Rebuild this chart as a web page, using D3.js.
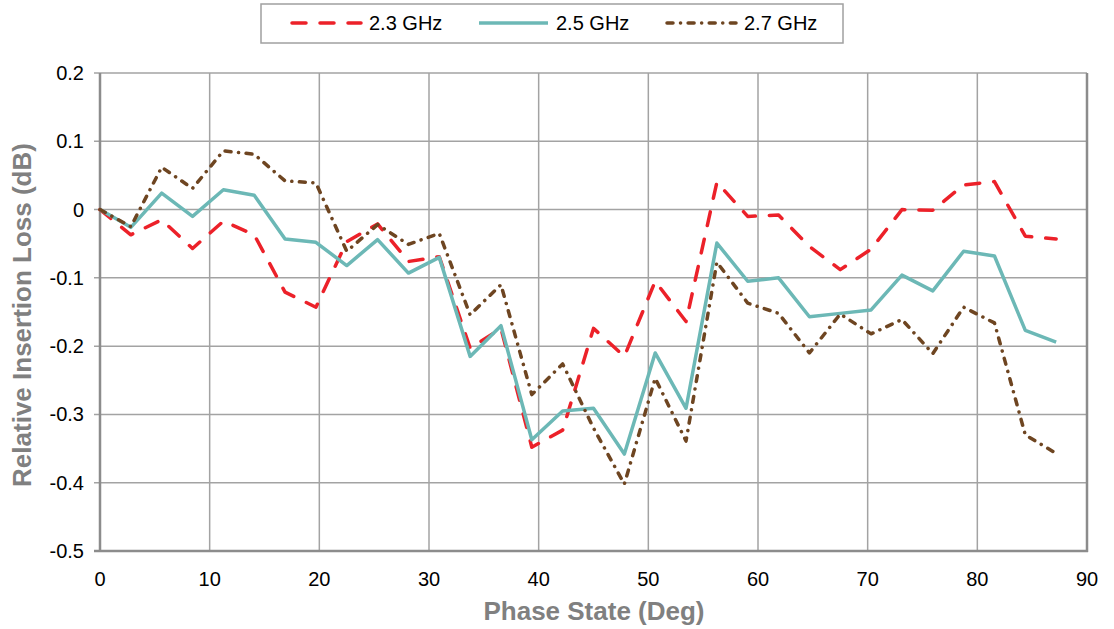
<!doctype html>
<html>
<head>
<meta charset="utf-8">
<script src="https://d3js.org/d3.v7.min.js"></script>
<style>
  body { margin: 0; background: #fff; }
  text { font-family: "Liberation Sans", Arial, sans-serif; }
</style>
</head>
<body>
<svg width="1114" height="629" id="chart"></svg>
<script>
// phase states (deg)
var phase = [0, 2.8125, 5.625, 8.4375, 11.25, 14.0625, 16.875, 19.6875, 22.5, 25.3125,
  28.125, 30.9375, 33.75, 36.5625, 39.375, 42.1875, 45, 47.8125, 50.625, 53.4375,
  56.25, 59.0625, 61.875, 64.6875, 67.5, 70.3125, 73.125, 75.9375, 78.75, 81.5625,
  84.375, 87.1875];

var loss23 = [0, -0.037, -0.015, -0.057, -0.017, -0.037, -0.121, -0.143, -0.047, -0.021,
  -0.076, -0.069, -0.203, -0.174, -0.348, -0.323, -0.174, -0.215, -0.105, -0.164,
  0.040, -0.010, -0.008, -0.054, -0.088, -0.058, 0.0, -0.001, 0.036, 0.041,
  -0.039, -0.043];

var loss25 = [0, -0.026, 0.024, -0.010, 0.029, 0.021, -0.043, -0.048, -0.082, -0.044,
  -0.093, -0.070, -0.215, -0.170, -0.337, -0.295, -0.291, -0.358, -0.210, -0.291,
  -0.049, -0.105, -0.100, -0.157, -0.152, -0.147, -0.096, -0.119, -0.061, -0.068,
  -0.177, -0.194];

var loss27 = [0, -0.025, 0.062, 0.031, 0.086, 0.081, 0.042, 0.039, -0.061, -0.022,
  -0.051, -0.035, -0.154, -0.110, -0.271, -0.226, -0.320, -0.402, -0.247, -0.339,
  -0.077, -0.137, -0.152, -0.210, -0.153, -0.182, -0.161, -0.211, -0.143, -0.166,
  -0.330, -0.357];

var seriesNames = ["2.3 GHz", "2.5 GHz", "2.7 GHz"];
var xTicks = [0, 10, 20, 30, 40, 50, 60, 70, 80, 90];
var yTicks = [0.2, 0.1, 0, -0.1, -0.2, -0.3, -0.4, -0.5];

var series = [
  { name: seriesNames[0], values: loss23, color: "#ec2129", dash: "14,14" },
  { name: seriesNames[1], values: loss25, color: "#6cb8b6", dash: null },
  { name: seriesNames[2], values: loss27, color: "#6e4521", dash: "6,7.5,0.1,7.5" }
];

var svg = d3.select("#chart");
var plotLeft = 100, plotRight = 1087, plotTop = 73, plotBottom = 551;

var x = d3.scaleLinear().domain([0, 90]).range([plotLeft, plotRight]);
var y = d3.scaleLinear().domain([-0.5, 0.2]).range([plotBottom, plotTop]);

// grid
var g = svg.append("g");
g.selectAll(".hgrid").data(yTicks).enter().append("line")
  .attr("x1", plotLeft - 6).attr("x2", plotRight)
  .attr("y1", function (d) { return y(d); }).attr("y2", function (d) { return y(d); })
  .attr("stroke", "#a3a3a3").attr("stroke-width", 1.5);
g.selectAll(".vgrid").data(xTicks).enter().append("line")
  .attr("x1", function (d) { return x(d); }).attr("x2", function (d) { return x(d); })
  .attr("y1", plotTop).attr("y2", plotBottom)
  .attr("stroke", "#a3a3a3").attr("stroke-width", 1.5);

// axis frame
g.append("line").attr("x1", plotLeft).attr("x2", plotLeft).attr("y1", plotTop).attr("y2", plotBottom)
  .attr("stroke", "#8c8c8c").attr("stroke-width", 2.5);
g.append("line").attr("x1", plotRight).attr("x2", plotRight).attr("y1", plotTop).attr("y2", plotBottom + 1)
  .attr("stroke", "#8c8c8c").attr("stroke-width", 2.5);
g.append("line").attr("x1", plotLeft - 6).attr("x2", plotRight + 1).attr("y1", plotBottom).attr("y2", plotBottom)
  .attr("stroke", "#8c8c8c").attr("stroke-width", 2.5);

// tick labels (plain hyphen minus, as in the original)
svg.append("g").selectAll("text").data(yTicks).enter().append("text")
  .attr("x", 84).attr("y", function (d) { return y(d) + 7; })
  .attr("text-anchor", "end")
  .style("font-size", "20px").attr("fill", "#000")
  .text(function (d) { return String(d); });

svg.append("g").selectAll("text").data(xTicks).enter().append("text")
  .attr("x", function (d) { return x(d); }).attr("y", 586)
  .attr("text-anchor", "middle")
  .style("font-size", "20px").attr("fill", "#000")
  .text(function (d) { return d; });

// titles
svg.append("text")
  .attr("x", 594).attr("y", 620)
  .attr("text-anchor", "middle")
  .style("font-size", "26px").style("font-weight", "bold")
  .attr("fill", "#808080")
  .text("Phase State (Deg)");

svg.append("text")
  .attr("text-anchor", "middle")
  .attr("transform", "translate(31,315)rotate(-90)")
  .style("font-size", "26px").style("font-weight", "bold")
  .attr("fill", "#808080")
  .text("Relative Insertion Loss (dB)");

// lines
var line = d3.line()
  .x(function (d, i) { return x(phase[i]); })
  .y(function (d) { return y(d); });

series.forEach(function (s) {
  svg.append("path")
    .datum(s.values)
    .attr("d", line)
    .attr("fill", "none")
    .attr("stroke", s.color)
    .attr("stroke-width", 3.5)
    .attr("stroke-linejoin", "round")
    .attr("stroke-linecap", s.dash ? "round" : "butt")
    .attr("stroke-dasharray", s.dash);
});

// legend
var legend = svg.append("g");
legend.append("rect")
  .attr("x", 261).attr("y", 4).attr("width", 582).attr("height", 39)
  .attr("fill", "#fff").attr("stroke", "#a0a0a0").attr("stroke-width", 1.5);

var legX = [292, 479, 667];
series.forEach(function (s, i) {
  legend.append("line")
    .attr("x1", legX[i]).attr("x2", legX[i] + 69)
    .attr("y1", 23).attr("y2", 23)
    .attr("stroke", s.color).attr("stroke-width", 3.5)
    .attr("stroke-linecap", s.dash ? "round" : "butt")
    .attr("stroke-dasharray", s.dash);
  legend.append("text")
    .attr("x", legX[i] + 77).attr("y", 30)
    .style("font-size", "20px").attr("fill", "#000")
    .text(s.name);
});
</script>
</body>
</html>
